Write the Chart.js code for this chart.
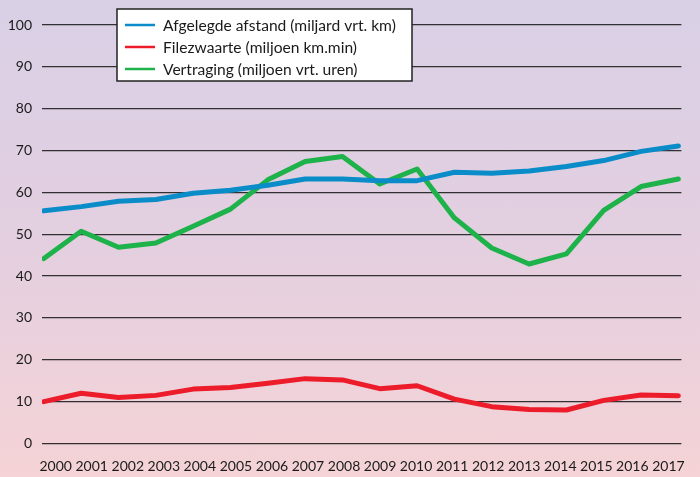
<!DOCTYPE html>
<html>
<head>
<meta charset="utf-8">
<script src="https://cdn.jsdelivr.net/npm/chart.js@4/dist/chart.umd.min.js"></script>
<style>
  html, body { margin: 0; padding: 0; }
  body { width: 700px; height: 477px; background: linear-gradient(to bottom, #d9d0e6 0%, #e3cfe0 50%, #f5d3d6 100%); }
  #wrap { position: relative; width: 700px; height: 477px; }
</style>
</head>
<body>
<div id="wrap"><canvas id="c" width="700" height="477"></canvas></div>
<script>
const years = [2000,2001,2002,2003,2004,2005,2006,2007,2008,2009,2010,2011,2012,2013,2014,2015,2016,2017];
const yearLabels = years.map(String);
const seriesNames = ["Afgelegde afstand (miljard vrt. km)", "Filezwaarte (miljoen km.min)", "Vertraging (miljoen vrt. uren)"];
const afstand = [55.6, 56.6, 57.9, 58.3, 59.8, 60.5, 61.7, 63.2, 63.2, 62.8, 62.8, 64.8, 64.6, 65.1, 66.2, 67.6, 69.8, 71.1];
const filezwaarte = [10.0, 12.0, 11.0, 11.5, 13.0, 13.4, 14.4, 15.5, 15.2, 13.1, 13.8, 10.6, 8.8, 8.1, 8.0, 10.3, 11.6, 11.4];
const vertraging = [44.2, 50.7, 46.9, 47.9, 51.9, 56.0, 63.0, 67.4, 68.6, 62.0, 65.6, 53.9, 46.7, 42.9, 45.3, 55.7, 61.4, 63.2];
const yTicks = [0,10,20,30,40,50,60,70,80,90,100];
const colors = ["#0a8cc8", "#ec1c2a", "#1eb24a"];

const FONT = "Lato, 'Open Sans', sans-serif";

const legendPlugin = {
  id: 'boxLegend',
  afterDraw(chart) {
    const ctx = chart.ctx;
    ctx.save();
    const x0 = 117, y0 = 9, w = 295, h = 72;
    ctx.fillStyle = '#ffffff';
    ctx.fillRect(x0, y0, w, h);
    ctx.strokeStyle = '#222';
    ctx.lineWidth = 1.5;
    ctx.strokeRect(x0, y0, w, h);
    const rows = [25, 47, 69];
    ctx.font = '15.6px ' + FONT;
    ctx.textBaseline = 'middle';
    chart.data.datasets.forEach((ds, i) => {
      ctx.strokeStyle = ds.borderColor;
      ctx.lineWidth = 2.5;
      ctx.beginPath();
      ctx.moveTo(125, rows[i]);
      ctx.lineTo(155, rows[i]);
      ctx.stroke();
      ctx.fillStyle = '#1a1a1a';
      ctx.fillText(ds.label, 163, rows[i] + 0.5);
    });
    ctx.restore();
  }
};

const toPts = arr => arr.map((v, i) => ({x: i, y: v}));

new Chart(document.getElementById('c'), {
  type: 'line',
  data: {
    datasets: [
      { label: seriesNames[0], data: toPts(afstand), borderColor: colors[0], backgroundColor: colors[0], xAxisID: 'x', yAxisID: 'y' },
      { label: seriesNames[1], data: toPts(filezwaarte), borderColor: colors[1], backgroundColor: colors[1], xAxisID: 'x', yAxisID: 'y' },
      { label: seriesNames[2], data: toPts(vertraging), borderColor: colors[2], backgroundColor: colors[2], xAxisID: 'x', yAxisID: 'y' }
    ]
  },
  options: {
    responsive: false,
    animation: false,
    events: [],
    layout: { padding: { top: 25, bottom: 1.7, left: 0, right: 0 } },
    elements: {
      point: { radius: 0 },
      line: { borderWidth: 5, tension: 0, borderCapStyle: 'round', borderJoinStyle: 'round' }
    },
    plugins: { legend: { display: false }, tooltip: { enabled: false } },
    scales: {
      x: {
        type: 'linear', display: false,
        min: -0.05, max: 17.08
      },
      x2: {
        type: 'linear', position: 'bottom',
        min: -0.38, max: 17.36,
        grid: { display: false, drawTicks: false },
        border: { display: false },
        afterBuildTicks: s => { s.ticks = yearLabels.map((_, i) => ({value: i})); },
        afterFit: s => { s.height = 31.8; },
        ticks: {
          padding: 15, maxRotation: 0, autoSkip: false,
          color: '#1a1a1a', font: { family: FONT, size: 14 },
          callback: (v) => yearLabels[v]
        }
      },
      y: {
        type: 'linear', min: 0, max: 100,
        afterBuildTicks: s => { s.ticks = yTicks.map(v => ({value: v})); },
        afterFit: s => { s.width = 42; },
        grid: { color: 'rgba(30,30,30,0.9)', lineWidth: 1.3, drawTicks: false },
        border: { display: false },
        ticks: { padding: 10, color: '#1a1a1a', font: { family: FONT, size: 14 } }
      }
    }
  },
  plugins: [legendPlugin]
});
</script>
</body>
</html>
